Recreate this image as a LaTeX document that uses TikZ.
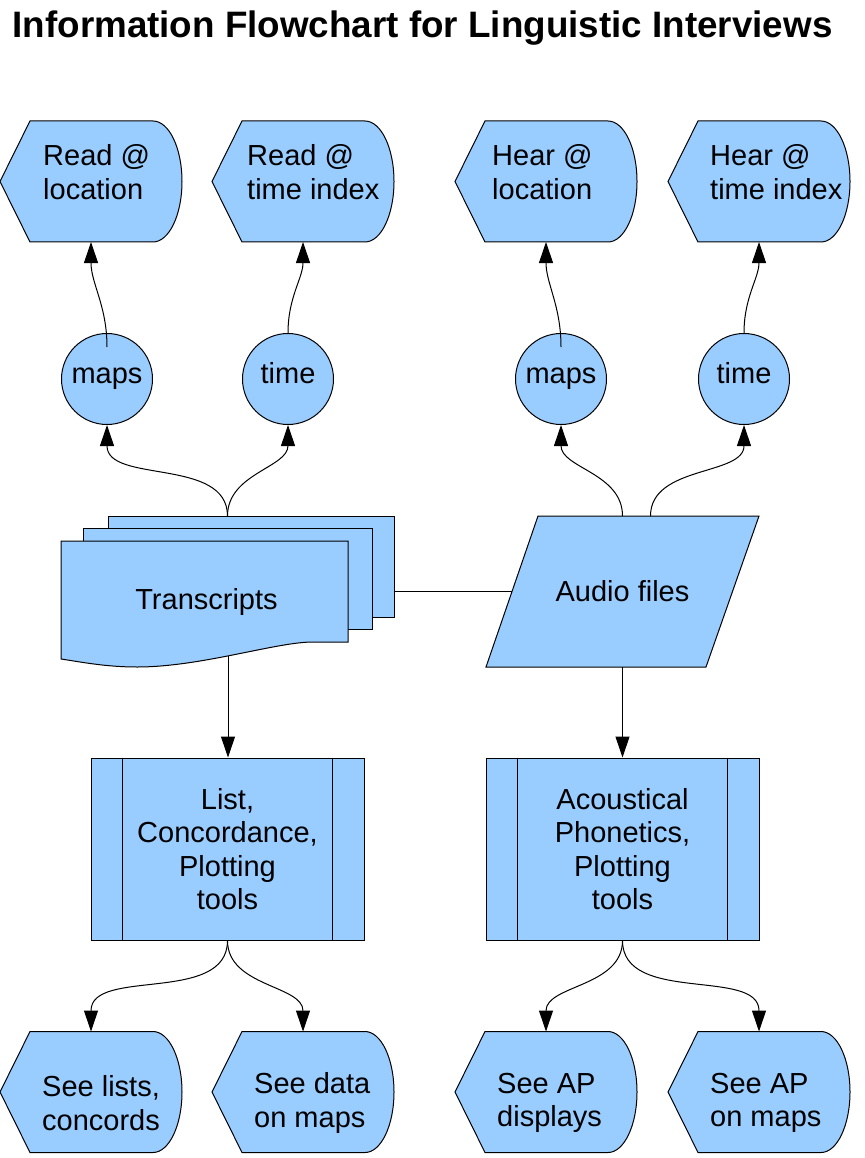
\documentclass[tikz,border=0pt]{standalone}
\usepackage{fontspec}
\setmainfont{Liberation Sans}
\usetikzlibrary{arrows.meta,backgrounds}
\definecolor{boxblue}{RGB}{153,204,255}
\newcommand\bodyfont{\fontsize{29}{33.5}\selectfont}
\newcommand\titlefont{\fontsize{36.8}{44}\selectfont\bfseries}
\newcommand\dispshape[1]{\begin{scope}[shift={(#1.north west)}]
	\path[outline] (0,60.5) -- (30,0) -- (153,0) .. controls (169,0) and (182,27) .. (182,60.5) .. controls (182,94) and (169,121) .. (153,121) -- (30,121) -- cycle;
\end{scope}}

\begin{document}
\begin{tikzpicture}[x=1pt,y=-1pt,
	outline/.style={draw=black, fill=boxblue, line width=1pt},
	disp/.style={minimum width=182, minimum height=121, inner sep=0, outer sep=0},
	dtop/.style={anchor=west, xshift=40pt, yshift=9.5pt, align=left, inner sep=0, font=\bodyfont},
	dbot/.style={anchor=west, xshift=42pt, yshift=-11pt, align=left, inner sep=0, font=\bodyfont},
	conn/.style={circle, draw=black, fill=boxblue, line width=1pt, minimum size=91, inner sep=0, text height=21, text depth=13, font=\bodyfont},
	proc/.style={rectangle, draw=black, fill=boxblue, line width=1pt, minimum width=273, minimum height=182, align=center, font=\bodyfont},
	arr/.style={-{Triangle[length=21pt,width=14pt]}, line width=1pt}]
		%%%%% START %%%%%
		\useasboundingbox (0,0) rectangle (864,1158);
		
		\node[font=\titlefont] (title) at (422.5,28) {Information Flowchart for Linguistic Interviews};
		
		% displays, top row
		\node[disp, label={[dtop,xshift=3pt]west:{Read @\\location}}] (readloc) at (91,181.5) {};
		\node[disp, label={[dtop,xshift=-5pt]west:{Read @\\time index}}] (readtime) at (303,181.5) {};
		\node[disp, label={[dtop,xshift=-3pt]west:{Hear @\\location}}] (hearloc) at (546,181.5) {};
		\node[disp, label={[dtop,xshift=2pt]west:{Hear @\\time index}}] (heartime) at (759,181.5) {};
		
		\node[conn] (maps1) at (107,379) {maps};
		\node[conn] (time1) at (288,379) {time};
		\node[conn] (maps2) at (561,379) {maps};
		\node[conn] (time2) at (744,379) {time};
		
		% sources
		\node[minimum width=333, minimum height=151, inner sep=0, outer sep=0,
			label={[font=\bodyfont, xshift=-21pt, yshift=-10pt]center:Transcripts}] (trans) at (227.5,591.5) {};
		\node[minimum width=273, minimum height=151, inner sep=0, outer sep=0, font=\bodyfont] (audio) at (622.5,591.5) {Audio files};
		
		\node[proc] (listtools) at (227.5,849) {List,\\Concordance,\\Plotting\\tools};
		\node[proc] (acoustics) at (622.5,849) {Acoustical\\Phonetics,\\Plotting\\tools};
		\draw[line width=1pt] ([xshift=32]listtools.north west) -- ([xshift=32]listtools.south west);
		\draw[line width=1pt] ([xshift=-32]listtools.north east) -- ([xshift=-32]listtools.south east);
		\draw[line width=1pt] ([xshift=32]acoustics.north west) -- ([xshift=32]acoustics.south west);
		\draw[line width=1pt] ([xshift=-32]acoustics.north east) -- ([xshift=-32]acoustics.south east);
		
		% displays, bottom row
		\node[disp, label={[dbot]west:{See lists,\\concords}}] (seelists) at (91,1092) {};
		\node[disp, label={[dbot]west:{See data\\on maps}}] (seedata) at (303,1092) {};
		\node[disp, label={[dbot]west:{See AP\\displays}}] (seeapdisp) at (546,1092) {};
		\node[disp, label={[dbot]west:{See AP\\on maps}}] (seeapmaps) at (759,1092) {};
		
		\begin{scope}[on background layer]
			\foreach \n in {readloc,readtime,hearloc,heartime,seelists,seedata,seeapdisp,seeapmaps}
				{\dispshape{\n}}
			\begin{scope}[shift={(trans.north west)}]
				\path[outline] (47,0) rectangle (333,101);
				\path[outline] (22,12) rectangle (311,113);
				\path[outline] (0,25) -- (287,25) -- (287,126) -- (252,126) .. controls (215,126) and (140,151) .. (76,151) .. controls (45,151) and (20,146) .. (0,143) -- cycle;
				\coordinate (transfoot) at (167,140);
			\end{scope}
			\begin{scope}[shift={(audio.north west)}]
				\path[outline] (52,0) -- (273,0) -- (220,151) -- (0,151) -- cycle;
			\end{scope}
		\end{scope}
		
		% connectors
		\draw[arr] ([yshift=-14]maps1.north) to[out=90,in=-90] (readloc.south);
		\draw[arr] (time1.north) to[out=90,in=-90] (readtime.south);
		\draw[arr] ([yshift=-14]maps2.north) to[out=90,in=-90] (hearloc.south);
		\draw[arr] (time2.north) to[out=90,in=-90] (heartime.south);
		
		\draw[arr] (trans.north) to[out=90,in=-90] (maps1.south);
		\draw[arr] (trans.north) to[out=90,in=-90] (time1.south);
		\draw[arr] (audio.north) to[out=90,in=-90] (maps2.south);
		\draw[arr] ([xshift=28]audio.north) to[out=90,in=-90] (time2.south);
		
		\draw[line width=1pt] (trans.east) -- ([xshift=26]audio.west);
		
		\draw[arr] (transfoot) -- (transfoot |- listtools.north);
		\draw[arr] (audio.south) -- (acoustics.north);
		
		\draw[arr] (listtools.south) to[out=-90,in=90] (seelists.north);
		\draw[arr] (listtools.south) to[out=-90,in=90] (seedata.north);
		\draw[arr] (acoustics.south) to[out=-90,in=90] (seeapdisp.north);
		\draw[arr] (acoustics.south) to[out=-90,in=90] (seeapmaps.north);
		%%%%% END %%%%%
\end{tikzpicture}
\end{document}
